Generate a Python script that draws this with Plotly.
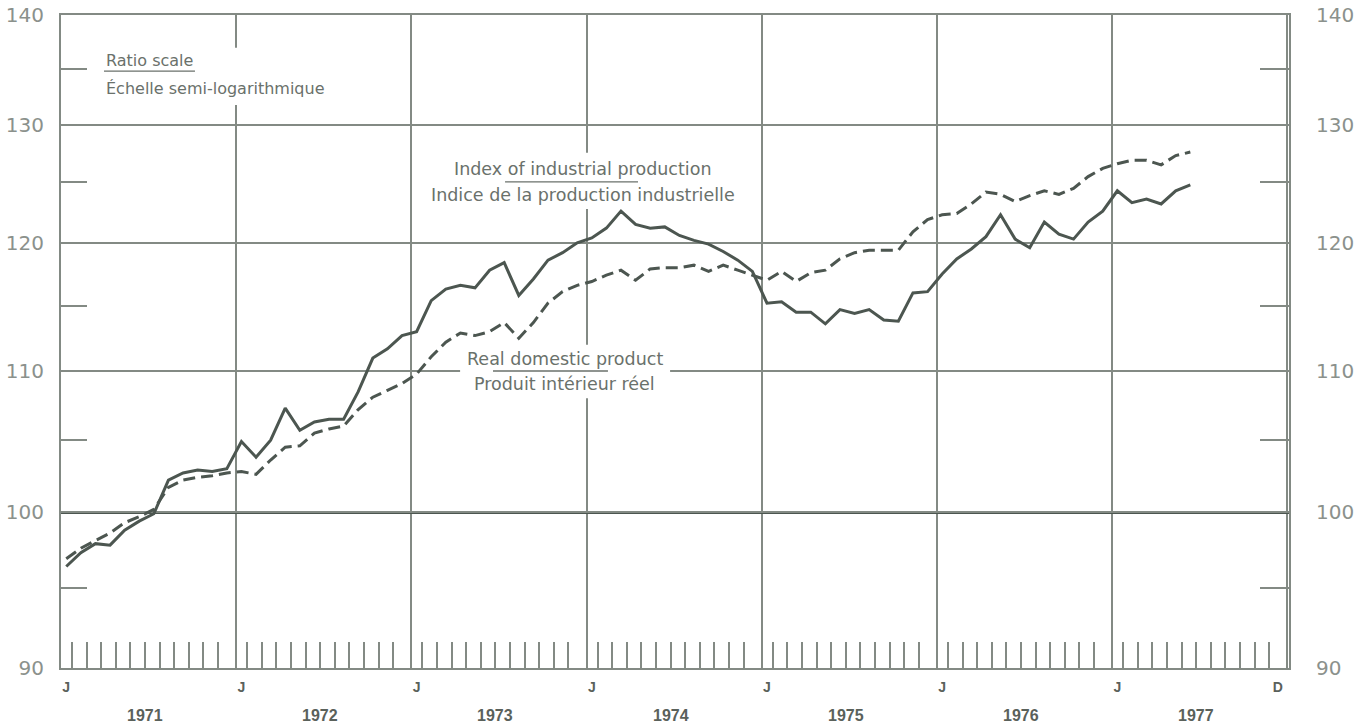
import math
import plotly.graph_objects as go

# ---------------- data (monthly, Jan 1971 - Jun 1977) ----------------
YEARS = [1971, 1972, 1973, 1974, 1975, 1976, 1977]

# Index of industrial production (solid line)
IND_PROD = [
    96.4, 97.3, 97.9, 97.8, 98.8, 99.4, 99.9, 102.2, 102.7, 102.9, 102.8, 103.0,      # 1971
    104.9, 103.8, 105.0, 107.3, 105.7, 106.3, 106.5, 106.5, 108.5, 111.0, 111.7, 112.7,  # 1972
    113.0, 115.4, 116.3, 116.6, 116.4, 117.8, 118.4, 115.8, 117.1, 118.6, 119.2, 120.0,  # 1973
    120.4, 121.2, 122.6, 121.5, 121.2, 121.3, 120.6, 120.2, 119.9, 119.3, 118.6, 117.7,  # 1974
    115.2, 115.3, 114.5, 114.5, 113.6, 114.7, 114.4, 114.7, 113.9, 113.8, 116.0, 116.1,  # 1975
    117.5, 118.7, 119.5, 120.5, 122.3, 120.3, 119.6, 121.7, 120.7, 120.3, 121.7, 122.6,  # 1976
    124.3, 123.3, 123.6, 123.2, 124.3, 124.8,                                            # 1977
]

# Real domestic product (dashed line)
REAL_DP = [
    96.9, 97.6, 98.1, 98.6, 99.3, 99.7, 100.2, 101.7, 102.2, 102.4, 102.5, 102.7,      # 1971
    102.8, 102.6, 103.6, 104.5, 104.6, 105.5, 105.8, 106.0, 107.2, 108.1, 108.6, 109.1,  # 1972
    109.8, 111.1, 112.2, 112.9, 112.7, 113.0, 113.7, 112.5, 113.7, 115.2, 116.1, 116.6,  # 1973
    116.9, 117.4, 117.8, 117.0, 117.9, 118.0, 118.0, 118.2, 117.7, 118.2, 117.8, 117.4,  # 1974
    117.0, 117.7, 116.9, 117.6, 117.8, 118.7, 119.2, 119.4, 119.4, 119.4, 120.9, 121.9,  # 1975
    122.3, 122.4, 123.2, 124.2, 124.0, 123.4, 123.9, 124.3, 124.0, 124.5, 125.5, 126.2,  # 1976
    126.6, 126.9, 126.9, 126.5, 127.3, 127.6,                                            # 1977
]

Y_MAJOR = [90, 100, 110, 120, 130, 140]
Y_MINOR = [95, 105, 115, 125, 135]
BASE_Y = [100]
MONTH_LABELS = ["J", "D"]

# ---------------- styling ----------------
LINE = "#4c5650"
GRID = "#838a84"
TICKFONT = dict(family="DejaVu Sans", size=20, color="#8b918c")
TXT = "#6a716b"
LAB = "#5a615b"

months = list(range(len(IND_PROD)))
n_months = 12 * len(YEARS)
x_range = [-0.36, n_months - 0.24]
y_range = [math.log10(Y_MAJOR[0]), math.log10(Y_MAJOR[-1])]
grid_x = [12 * i - 0.36 for i in range(len(YEARS) + 1)]
minor_x = [k + 0.4 for k in range(n_months - 1) if k % 12 != 11]
label_x = [12 * i for i in range(len(YEARS))] + [n_months - 1]
label_text = [MONTH_LABELS[0]] * len(YEARS) + [MONTH_LABELS[1]]

fig = go.Figure()

fig.add_trace(go.Scatter(x=months, y=REAL_DP, mode="lines", name="Real domestic product",
                         line=dict(color=LINE, width=3, dash="12px,6px"), hoverinfo="skip"))
fig.add_trace(go.Scatter(x=months, y=IND_PROD, mode="lines", name="Index of industrial production",
                         line=dict(color=LINE, width=3), hoverinfo="skip"))

# helper (invisible) traces so the overlay axes are drawn
for xa, ya in [("x2", "y2"), ("x3", "y3"), ("x", "y4"), ("x", "y5")]:
    fig.add_trace(go.Scatter(x=[months[0]], y=[IND_PROD[0]], xaxis=xa, yaxis=ya, mode="markers",
                             marker=dict(opacity=0), hoverinfo="skip", showlegend=False))

common_y = dict(type="log", range=y_range, tickmode="array", zeroline=False, automargin=False)
common_x = dict(range=x_range, tickmode="array", zeroline=False, automargin=False)

fig.update_layout(
    width=1357, height=728,
    margin=dict(l=61, r=68, t=15, b=60, autoexpand=False),
    paper_bgcolor="white", plot_bgcolor="white", showlegend=False,
    xaxis=dict(**common_x, tickvals=grid_x, showticklabels=False, ticks="",
               showgrid=True, gridcolor=GRID, gridwidth=1.5, showline=True, mirror=True,
               linecolor=GRID, linewidth=1.5),
    xaxis2=dict(**common_x, overlaying="x", tickvals=label_x, ticktext=label_text,
                ticks="", showgrid=False, showline=False, ticklabelstandoff=9,
                tickfont=dict(family="Liberation Sans", size=14, color=LAB, weight="bold")),
    xaxis3=dict(**common_x, overlaying="x", tickvals=minor_x, ticks="inside",
                ticklen=26, tickwidth=1.5, tickcolor=GRID, showticklabels=False, showgrid=False,
                showline=False),
    # main y: minor ticks on the left, frame line
    yaxis=dict(**common_y, tickvals=Y_MINOR, ticks="inside", ticklen=26, tickwidth=1.5,
               tickcolor=GRID, showticklabels=False, showgrid=False,
               showline=True, mirror=True, linecolor=GRID, linewidth=1.5),
    # right: minor ticks
    yaxis2=dict(**common_y, overlaying="y", side="right", tickvals=Y_MINOR, ticks="inside",
                ticklen=29, tickwidth=1.5, tickcolor=GRID, showticklabels=False,
                showgrid=False, showline=False),
    # left labels + horizontal grid
    yaxis3=dict(**common_y, overlaying="y", side="left", tickvals=Y_MAJOR,
                ticktext=[str(v) for v in Y_MAJOR], ticks="", showgrid=True, gridcolor=GRID,
                gridwidth=1.5, showline=False, tickfont=TICKFONT, ticklabelstandoff=16),
    # right labels
    yaxis4=dict(**common_y, overlaying="y", side="right", tickvals=Y_MAJOR,
                ticktext=[str(v) for v in Y_MAJOR], ticks="", showgrid=False, showline=False,
                tickfont=TICKFONT, ticklabelstandoff=26),
    # heavy base line at 100
    yaxis5=dict(**common_y, overlaying="y", tickvals=BASE_Y, showgrid=True, gridcolor=LINE,
                gridwidth=3, showticklabels=False, ticks="", showline=False),
)

# white boxes behind the labels (they interrupt gridlines) and separator rules
boxes = [
    (0.030, 0.232, 0.862, 0.950),
    (0.296, 0.553, 0.703, 0.789),
    (0.325, 0.496, 0.413, 0.495),
]
for x0, x1, y0, y1 in boxes:
    fig.add_shape(type="rect", xref="paper", yref="paper", x0=x0, x1=x1, y0=y0, y1=y1,
                  fillcolor="white", line=dict(width=0), layer="above")
rules = [
    (0.0350, 0.1091, 0.9142),
    (0.3616, 0.4699, 0.7443),
    (0.3518, 0.4454, 0.4548),
]
for x0, x1, y in rules:
    fig.add_shape(type="line", xref="paper", yref="paper", x0=x0, x1=x1, y0=y, y1=y,
                  line=dict(color=TXT, width=1.3), layer="above")

txtfont16 = dict(family="DejaVu Sans", size=16, color=TXT)
txtfont17 = dict(family="DejaVu Sans", size=17.5, color=TXT)
annos = [
    ("Ratio scale", 0.035, 0.930, "left", txtfont16),
    ("Échelle semi-logarithmique", 0.035, 0.887, "left", txtfont16),
    ("Index of industrial production", 0.4247, 0.764, "center", txtfont17),
    ("Indice de la production industrielle", 0.4247, 0.725, "center", txtfont17),
    ("Real domestic product", 0.4104, 0.473, "center", txtfont17),
    ("Produit intérieur réel", 0.4104, 0.435, "center", txtfont17),
]
for text, x, y, xa, f in annos:
    fig.add_annotation(text=text, xref="paper", yref="paper", x=x, y=y, xanchor=xa,
                       yanchor="middle", showarrow=False, font=f)

for i, yr in enumerate(YEARS):
    fig.add_annotation(text=str(yr), xref="x", yref="paper", x=12 * i + 5.4, y=-0.072,
                       xanchor="center", yanchor="middle", showarrow=False,
                       font=dict(family="Liberation Sans", size=16, color=LAB, weight="bold"))

# remove the page's default body margin so the figure sits at the window's top-left corner
fig.write_html("out.html", config={"displayModeBar": False},
               post_script="document.body.style.margin='0';document.body.style.overflow='hidden';")
